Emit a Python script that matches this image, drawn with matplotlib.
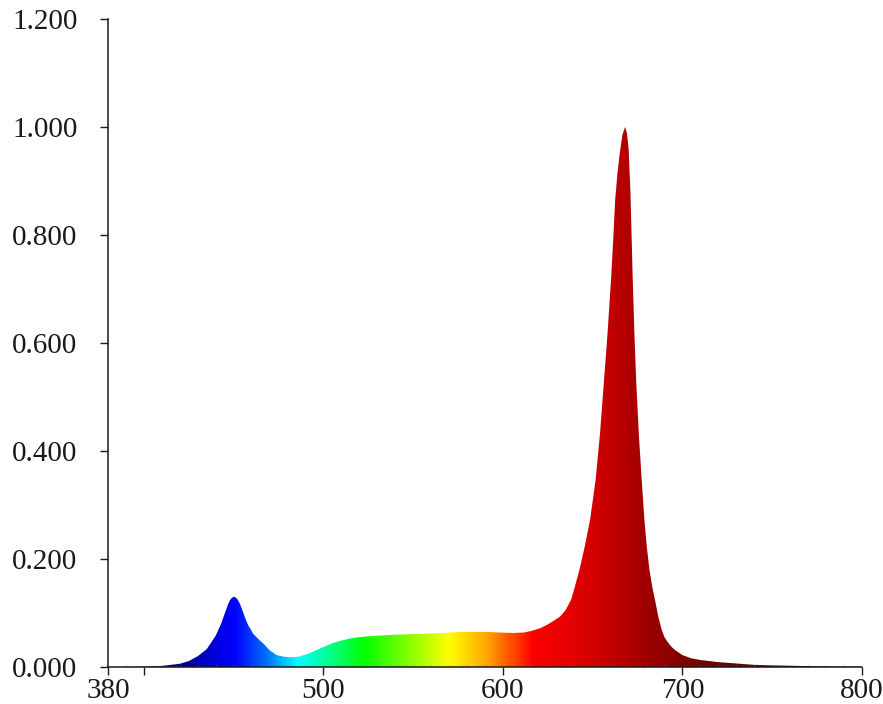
"""Relative spectral power distribution with wavelength-coloured fill."""

import numpy as np
import matplotlib
matplotlib.use("Agg")
import matplotlib.pyplot as plt
from matplotlib.colors import LinearSegmentedColormap

# wavelength (nm) and relative intensity
wavelength = [
    380, 400, 410, 420, 425, 430, 435, 440, 443, 444.5, 446, 447, 448, 449,
    450, 451, 452, 453.5, 455, 456.5, 458, 461, 464, 467, 470, 474, 478,
    482, 486, 491, 496, 500, 505, 510, 515, 522, 530, 541, 560, 578, 590,
    597, 606, 612, 616, 621, 625, 629, 632, 635, 638, 640, 642.6, 645.5,
    648.5, 651.6, 654, 656.3, 658.3, 660.2, 661.4, 662.5, 663.8, 665,
    666.5, 668, 669, 670, 671, 672.3, 673.2, 674.2, 675.7, 677.3, 678.8,
    680.2, 681.6, 683.2, 684.7, 686.5, 688.4, 690, 692, 694, 696, 700,
    705, 710, 720, 728, 740, 750, 765, 780, 800,
]
intensity = [
    0.000, 0.0005, 0.002, 0.006, 0.011, 0.020, 0.033, 0.058, 0.080, 0.094,
    0.108, 0.117, 0.124, 0.128, 0.130, 0.129, 0.126, 0.117, 0.104, 0.090,
    0.078, 0.061, 0.051, 0.042, 0.031, 0.022, 0.019, 0.018, 0.019, 0.024,
    0.031, 0.037, 0.044, 0.049, 0.053, 0.056, 0.058, 0.060, 0.062, 0.065,
    0.065, 0.064, 0.063, 0.064, 0.067, 0.072, 0.079, 0.087, 0.094, 0.106,
    0.125, 0.148, 0.180, 0.222, 0.272, 0.346, 0.430, 0.531, 0.620, 0.717,
    0.790, 0.865, 0.915, 0.950, 0.985, 1.000, 0.990, 0.960, 0.880, 0.717,
    0.620, 0.531, 0.430, 0.346, 0.272, 0.220, 0.180, 0.148, 0.124, 0.094,
    0.069, 0.055, 0.045, 0.037, 0.031, 0.022, 0.016, 0.013, 0.009, 0.007,
    0.004, 0.003, 0.002, 0.001, 0.0005,
]

# colour of the fill along the wavelength axis
color_nm = [380, 420, 440, 450, 468, 485, 505, 522, 570, 592, 617, 650, 680, 700, 760, 800]
color_hex = [
    "#20205a", "#000090", "#0000e0", "#0000ff", "#0070ff", "#00ffff",
    "#00ff80", "#00ff00", "#ffff00", "#ffa000", "#ff0000", "#d40000",
    "#a00000", "#800000", "#401010", "#202020",
]

x_ticks = [380, 400, 500, 600, 700, 800]
x_tick_labels = ["380", "", "500", "600", "700", "800"]
y_ticks = [0.0, 0.2, 0.4, 0.6, 0.8, 1.0, 1.2]

FONT = "Liberation Serif"
INK = "#1a1a1a"

fig = plt.figure(figsize=(8.83, 7.04), dpi=100)
ax = fig.add_axes([108 / 883, 37 / 704, 754 / 883, 648 / 704])

x_min, x_max = color_nm[0], color_nm[-1]
pos = [(v - x_min) / (x_max - x_min) for v in color_nm]
cmap = LinearSegmentedColormap.from_list("spectrum", list(zip(pos, color_hex)))

# the area under the curve, used only as a clip shape
area = ax.fill_between(wavelength, intensity, 0, facecolor="none", edgecolor="none")

grad = np.linspace(0, 1, 1200).reshape(1, -1)
im = ax.imshow(grad, cmap=cmap, aspect="auto", extent=[x_min, x_max, 0, 1.2],
               interpolation="bilinear", origin="lower")
im.set_clip_path(area.get_paths()[0], transform=ax.transData)

ax.set_xlim(380, 800)
ax.set_ylim(0, 1.2)

for side in ("top", "right"):
    ax.spines[side].set_visible(False)
for side in ("left", "bottom"):
    ax.spines[side].set_color(INK)
    ax.spines[side].set_linewidth(1.1)

ax.set_xticks(x_ticks)
ax.set_xticklabels(x_tick_labels)
ax.set_yticks(y_ticks)
ax.set_yticklabels([f"{v:.3f}" for v in y_ticks])
ax.set_xticks(np.arange(380, 801, 10), minor=True)

ax.tick_params(axis="x", which="major", direction="out", length=6, width=1.0,
               color=INK, pad=2, labelsize=21, labelcolor=INK)
ax.tick_params(axis="y", which="major", direction="out", length=6, width=1.0,
               color=INK, pad=16, labelsize=21, labelcolor=INK)
ax.tick_params(axis="x", which="minor", direction="in", length=1.5, width=0.5,
               color="#888888")
for lbl in ax.get_xticklabels() + ax.get_yticklabels():
    lbl.set_family(FONT)

fig.savefig("out.png", dpi=100, facecolor="white")
plt.close(fig)
